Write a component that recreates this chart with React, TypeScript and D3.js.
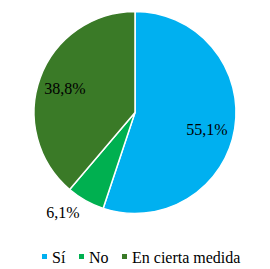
import React from "react";
import * as d3 from "d3";

const categories = ["Sí", "No", "En cierta medida"];
const values = [55.1, 6.1, 38.8];
const labels = ["55,1%", "6,1%", "38,8%"];
const colors = ["#00B0F0", "#00B050", "#3A7A27"];

const FONT = "'Liberation Serif'";

export default function App() {
  const W = 270, H = 269;
  const cx = 135, cy = 112.5, r = 101;
  const pie = d3.pie<number>().sort(null).value((d) => d)(values);
  const arc = d3.arc<d3.PieArcDatum<number>>().innerRadius(0).outerRadius(r);
  const labelPos = [
    [207, 135],
    [63, 218],
    [65, 94],
  ];
  const legendX = [42, 79, 122];
  return (
    <svg width={W} height={H} style={{ position: "absolute", left: 0, top: 0 }}>
      <rect width={W} height={H} fill="#fff" />
      <g transform={`translate(${cx},${cy})`}>
        {pie.map((p, i) => (
          <path key={i} d={arc(p) || ""} fill={colors[i]} stroke="#fff" strokeWidth={1.5} />
        ))}
      </g>
      {labels.map((l, i) => (
        <text
          key={i}
          x={labelPos[i][0]}
          y={labelPos[i][1]}
          textAnchor="middle"
          style={{ fontFamily: FONT, fontSize: "16px" }}
          fill="#000"
        >
          {l}
        </text>
      ))}
      {categories.map((c, i) => (
        <g key={i}>
          <rect x={legendX[i]} y={254} width={5} height={5} fill={colors[i]} />
          <text x={legendX[i] + 10} y={263} style={{ fontFamily: FONT, fontSize: "16px" }} fill="#000">
            {c}
          </text>
        </g>
      ))}
    </svg>
  );
}
